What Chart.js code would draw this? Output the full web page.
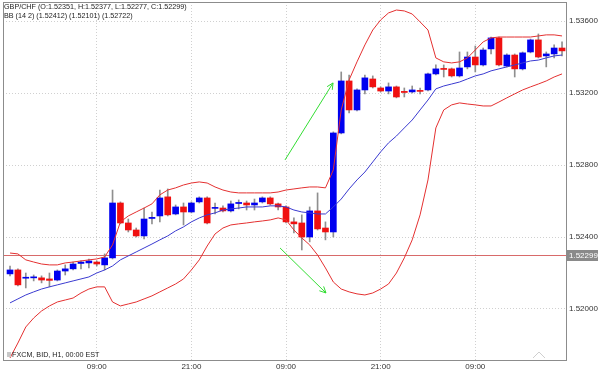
<!DOCTYPE html>
<html><head><meta charset="utf-8">
<script src="https://cdn.jsdelivr.net/npm/chart.js@4/dist/chart.umd.min.js"></script>
<style>
html,body{margin:0;padding:0;background:#fff;overflow:hidden;}
#wrap{position:relative;width:600px;height:369px;overflow:hidden;}
canvas{display:block;}
.t{position:absolute;font-family:"Liberation Sans",Arial,sans-serif;font-size:7.2px;color:#222;white-space:nowrap;line-height:1;}
</style></head><body>
<div id="wrap"><canvas id="c" width="600" height="369"></canvas>
<div class="t" style="left:4px;top:3px">GBP/CHF (O:1.52351, H:1.52377, L:1.52277, C:1.52299)</div>
<div class="t" style="left:4px;top:12px">BB (14 2) (1.52412) (1.52101) (1.52722)</div>
<div class="t" style="left:12px;top:351px">FXCM, BID, H1, 00:00 EST</div>
</div>
<script>
const labels = ["22:00","23:00","00:00","01:00","02:00","03:00","04:00","05:00","06:00","07:00","08:00","09:00",
"10:00","11:00","12:00","13:00","14:00","15:00","16:00","17:00","18:00","19:00","20:00","21:00",
"22:00","23:00","00:00","01:00","02:00","03:00","04:00","05:00","06:00","07:00","08:00","09:00",
"10:00","11:00","12:00","13:00","14:00","15:00","16:00","17:00","18:00","19:00","20:00","21:00",
"22:00","23:00","00:00","01:00","02:00","03:00","04:00","05:00","06:00","07:00","08:00","09:00",
"10:00","11:00","12:00","13:00","14:00","15:00","16:00","17:00","18:00","19:00","20:00"];

const open = [1.52195,1.52217,1.52171,1.52173,1.52173,1.52167,1.52161,1.52211,1.52223,1.52253,1.52256,1.52261,1.52245,1.52284,1.52589,1.52478,1.52439,1.52406,1.52503,1.52517,1.52623,1.52528,1.52567,1.52539,1.52595,1.52617,1.52559,1.52561,1.52545,1.52586,1.52589,1.52578,1.52595,1.52617,1.52584,1.52567,1.52484,1.52478,1.52400,1.52545,1.52450,1.52428,1.52978,1.53267,1.53106,1.53217,1.53278,1.53228,1.53211,1.53234,1.53209,1.53206,1.53214,1.53217,1.53306,1.53336,1.53334,1.53295,1.53345,1.53400,1.53356,1.53445,1.53506,1.53350,1.53411,1.53334,1.53428,1.53495,1.53406,1.53417,1.53450];
const high = [1.52239,1.52223,1.52200,1.52189,1.52184,1.52200,1.52217,1.52245,1.52261,1.52267,1.52278,1.52267,1.52306,1.52661,1.52595,1.52500,1.52450,1.52561,1.52539,1.52661,1.52667,1.52578,1.52589,1.52595,1.52623,1.52623,1.52589,1.52573,1.52600,1.52606,1.52600,1.52611,1.52623,1.52623,1.52589,1.52573,1.52506,1.52523,1.52567,1.52645,1.52484,1.52984,1.53317,1.53300,1.53223,1.53300,1.53295,1.53234,1.53256,1.53239,1.53228,1.53239,1.53228,1.53311,1.53356,1.53356,1.53339,1.53428,1.53428,1.53461,1.53450,1.53511,1.53511,1.53417,1.53417,1.53428,1.53500,1.53528,1.53428,1.53467,1.53484];
const low = [1.52184,1.52128,1.52117,1.52156,1.52145,1.52123,1.52156,1.52189,1.52217,1.52223,1.52228,1.52239,1.52217,1.52278,1.52473,1.52428,1.52400,1.52389,1.52473,1.52484,1.52517,1.52523,1.52467,1.52534,1.52589,1.52473,1.52528,1.52539,1.52539,1.52556,1.52550,1.52550,1.52589,1.52578,1.52550,1.52478,1.52423,1.52328,1.52373,1.52439,1.52384,1.52400,1.52973,1.53089,1.53100,1.53195,1.53228,1.53206,1.53195,1.53173,1.53178,1.53200,1.53195,1.53211,1.53300,1.53289,1.53289,1.53289,1.53334,1.53317,1.53350,1.53417,1.53350,1.53345,1.53289,1.53328,1.53423,1.53395,1.53345,1.53395,1.53406];
const close = [1.52217,1.52134,1.52174,1.52175,1.52161,1.52159,1.52211,1.52223,1.52250,1.52261,1.52267,1.52250,1.52284,1.52589,1.52478,1.52439,1.52406,1.52500,1.52509,1.52617,1.52523,1.52567,1.52539,1.52589,1.52617,1.52478,1.52564,1.52545,1.52584,1.52592,1.52578,1.52589,1.52617,1.52584,1.52567,1.52484,1.52473,1.52400,1.52545,1.52445,1.52428,1.52978,1.53267,1.53106,1.53217,1.53284,1.53234,1.53211,1.53234,1.53178,1.53203,1.53217,1.53209,1.53306,1.53334,1.53331,1.53295,1.53339,1.53400,1.53356,1.53439,1.53506,1.53356,1.53411,1.53334,1.53423,1.53495,1.53400,1.53417,1.53450,1.53434];

const bbUpper = [1.52311,1.52306,1.52273,1.52261,1.52250,1.52245,1.52245,1.52256,1.52261,1.52267,1.52273,1.52278,1.52289,1.52356,1.52484,1.52517,1.52539,1.52561,1.52584,1.52634,1.52661,1.52673,1.52689,1.52700,1.52706,1.52700,1.52678,1.52661,1.52650,1.52645,1.52645,1.52645,1.52645,1.52645,1.52650,1.52661,1.52667,1.52673,1.52678,1.52678,1.52673,1.52773,1.53106,1.53273,1.53373,1.53467,1.53550,1.53606,1.53645,1.53661,1.53656,1.53639,1.53595,1.53550,1.53395,1.53373,1.53367,1.53373,1.53395,1.53439,1.53484,1.53506,1.53511,1.53511,1.53511,1.53511,1.53511,1.53517,1.53523,1.53523,1.53517];
const bbMiddle = [1.52034,1.52056,1.52078,1.52095,1.52111,1.52123,1.52134,1.52145,1.52156,1.52167,1.52178,1.52200,1.52217,1.52239,1.52273,1.52295,1.52317,1.52339,1.52361,1.52384,1.52406,1.52434,1.52456,1.52484,1.52506,1.52523,1.52534,1.52550,1.52556,1.52561,1.52567,1.52567,1.52567,1.52573,1.52573,1.52567,1.52550,1.52539,1.52534,1.52528,1.52528,1.52567,1.52611,1.52667,1.52717,1.52761,1.52817,1.52873,1.52923,1.52961,1.53006,1.53050,1.53106,1.53161,1.53223,1.53239,1.53250,1.53261,1.53278,1.53295,1.53306,1.53323,1.53334,1.53345,1.53356,1.53367,1.53378,1.53383,1.53395,1.53406,1.53411];
const bbLower = [1.51728,1.51811,1.51900,1.51950,1.51989,1.52017,1.52039,1.52050,1.52061,1.52089,1.52111,1.52123,1.52123,1.52039,1.52017,1.52028,1.52039,1.52056,1.52073,1.52095,1.52117,1.52139,1.52167,1.52217,1.52273,1.52350,1.52417,1.52450,1.52467,1.52473,1.52478,1.52484,1.52489,1.52495,1.52506,1.52495,1.52439,1.52395,1.52356,1.52300,1.52228,1.52150,1.52111,1.52095,1.52084,1.52078,1.52089,1.52111,1.52139,1.52200,1.52284,1.52384,1.52523,1.52717,1.53006,1.53106,1.53134,1.53145,1.53139,1.53134,1.53128,1.53128,1.53150,1.53173,1.53195,1.53217,1.53234,1.53250,1.53267,1.53289,1.53306];

const yTickValues = [1.52000,1.52400,1.52800,1.53200,1.53600];
const lastPrice = 1.52299;
const lastPriceLabel = "1.52299";
// annotation arrows, in (candle index, price)
const arrowUp = [[34.87,1.52828],[40.96,1.53256]];
const arrowDown = [[34.24,1.52339],[40.07,1.52089]];

const timeTickIdx = labels.map((l,i)=>(l==="09:00"||l==="21:00")?i:-1).filter(i=>i>=0);
const idx = labels.map((_,i)=>i);
const UP='#0000f0', DOWN='#f01010';

const deco = {
  id:'deco',
  beforeDatasetsDraw(chart){
    const {ctx, chartArea:a, scales:{y}} = chart;
    ctx.save();
    const py = Math.round(y.getPixelForValue(lastPrice))+0.5;
    ctx.strokeStyle='#d86a6a'; ctx.lineWidth=1;
    ctx.beginPath(); ctx.moveTo(a.left,py); ctx.lineTo(a.right,py); ctx.stroke();
    ctx.restore();
  },
  afterDatasetsDraw(chart){
    const {ctx, scales:{x,y}} = chart;
    ctx.save();
    ctx.strokeStyle='#33dd33'; ctx.lineWidth=1;
    [arrowUp, arrowDown].forEach(ar=>{
      const x0=x.getPixelForValue(ar[0][0]), y0=y.getPixelForValue(ar[0][1]);
      const x1=x.getPixelForValue(ar[1][0]), y1=y.getPixelForValue(ar[1][1]);
      ctx.beginPath(); ctx.moveTo(x0,y0); ctx.lineTo(x1,y1); ctx.stroke();
      const ang=Math.atan2(y1-y0,x1-x0), L=7;
      ctx.beginPath();
      ctx.moveTo(x1-L*Math.cos(ang-0.45), y1-L*Math.sin(ang-0.45));
      ctx.lineTo(x1,y1);
      ctx.lineTo(x1-L*Math.cos(ang+0.45), y1-L*Math.sin(ang+0.45));
      ctx.stroke();
    });
    ctx.restore();
  },
  afterDraw(chart){
    const {ctx, chartArea:a, scales:{y}} = chart;
    ctx.save();
    ctx.strokeStyle='#8c8c8c'; ctx.lineWidth=1;
    ctx.strokeRect(a.left+0.5,a.top+0.5,a.width-1,a.height-1);
    const py = Math.round(y.getPixelForValue(lastPrice));
    ctx.fillStyle='#8a8a8a';
    ctx.fillRect(a.right, py-5, 31, 11);
    ctx.fillStyle='#fff'; ctx.font='8px "Liberation Sans", Arial, sans-serif';
    ctx.textBaseline='middle'; ctx.textAlign='left';
    ctx.fillText(lastPriceLabel, a.right+2, py+0.5);
    ctx.fillStyle='#c8c8c8';
    ctx.fillRect(a.left+4, a.bottom-9, 4, 5);
    ctx.strokeStyle='#cfcfcf';
    ctx.beginPath();
    ctx.moveTo(a.right-34, a.bottom-3); ctx.lineTo(a.right-28, a.bottom-9); ctx.lineTo(a.right-22, a.bottom-3);
    ctx.stroke();
    ctx.restore();
  }
};

const font = {family:'"Liberation Sans", Arial, sans-serif', size:8};
new Chart(document.getElementById('c'), {
  type:'bar',
  data:{datasets:[
    {type:'line', label:'upper', data:idx.map(i=>({x:i,y:bbUpper[i]})), borderColor:'#e43030', borderWidth:1, pointRadius:0, tension:0, order:0},
    {type:'line', label:'middle', data:idx.map(i=>({x:i,y:bbMiddle[i]})), borderColor:'#3a3ad0', borderWidth:1, pointRadius:0, tension:0, order:0},
    {type:'line', label:'lower', data:idx.map(i=>({x:i,y:bbLower[i]})), borderColor:'#e43030', borderWidth:1, pointRadius:0, tension:0, order:0},
    {label:'body', data:idx.map(i=>({x:i,y:[open[i],close[i]]})), backgroundColor:idx.map(i=>close[i]>=open[i]?UP:DOWN), barThickness:6, minBarLength:1, grouped:false, order:1},
    {label:'wick', data:idx.map(i=>({x:i,y:[low[i],high[i]]})), backgroundColor:'#8f8f8f', barThickness:1, grouped:false, order:2}
  ]},
  options:{
    responsive:false, animation:false, devicePixelRatio:1,
    layout:{padding:{left:3,top:2,right:0,bottom:0}},
    plugins:{legend:{display:false}, tooltip:{enabled:false}},
    scales:{
      x:{type:'linear', min:-0.89, max:70.63, offset:false, bounds:'ticks', grace:0,
        afterBuildTicks:s=>{s.ticks=timeTickIdx.map(v=>({value:v}));},
        afterFit:s=>{s.height=8; s.paddingLeft=0; s.paddingRight=0;},
        ticks:{callback:v=>labels[v], font, color:'#333', padding:1, maxRotation:0, autoSkip:false},
        grid:{color:'#d0d0d0', drawTicks:false, offset:false},
        border:{display:false, dash:[1,2]}
      },
      y:{type:'linear', position:'right', min:1.517111, max:1.537056,
        afterBuildTicks:s=>{s.ticks=yTickValues.map(v=>({value:v}));},
        afterFit:s=>{s.width=33; s.paddingTop=0; s.paddingBottom=0;},
        ticks:{callback:v=>Number(v).toFixed(5), font, color:'#333', padding:2},
        grid:{color:'#d0d0d0', drawTicks:false},
        border:{display:false, dash:[1,2]}
      }
    }
  },
  plugins:[deco]
});
</script>
</body></html>
